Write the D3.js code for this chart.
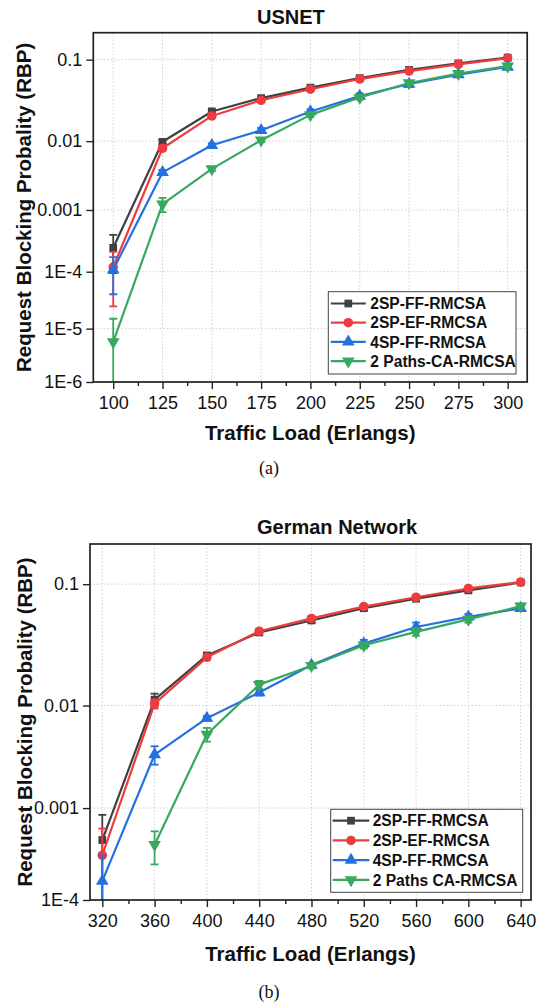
<!DOCTYPE html>
<html><head><meta charset="utf-8">
<script src="https://cdn.jsdelivr.net/npm/d3@7"></script>
<style>body{margin:0;background:#fff}svg{display:block}</style>
</head><body>
<svg id="fig" width="537" height="1007"></svg>
<script>
// ---------- DATA ----------
const seriesNamesA = ["2SP-FF-RMCSA", "2SP-EF-RMCSA", "4SP-FF-RMCSA", "2 Paths-CA-RMCSA"];
const seriesNamesB = ["2SP-FF-RMCSA", "2SP-EF-RMCSA", "4SP-FF-RMCSA", "2 Paths CA-RMCSA"];

// USNET
const usnetLoads = [100, 125, 150, 175, 200, 225, 250, 275, 300];
const usnetFF2   = [2.5e-4, 0.0098, 0.0245, 0.036, 0.048, 0.062, 0.077, 0.091, 0.105];
const usnetEF2   = [1.2e-4, 0.0080, 0.0215, 0.0338, 0.046, 0.0606, 0.0748, 0.089, 0.104];
const usnetFF4   = [1.08e-4, 0.00365, 0.0088, 0.014, 0.0245, 0.038, 0.053, 0.068, 0.083];
const usnetCA2   = [5.7e-6, 0.00123, 0.0041, 0.0103, 0.0222, 0.0365, 0.0545, 0.070, 0.085];
const usnetFF2Err = [1.55e-4, 0.0006, 0.0012, 0.0015, 0.0015, 0.002, 0.002, 0.002, 0.002];
const usnetEF2Err = [0.95e-4, 0.0006, 0.0012, 0.0015, 0.0015, 0.002, 0.002, 0.002, 0.002];
const usnetFF4Err = [0.67e-4, 0.0003, 0.0005, 0.0010, 0.0015, 0.003, 0.004, 0.003, 0.003];
const usnetCA2Err = [0.94e-5, 0.0003, 0.0003, 0.0006, 0.0012, 0.002, 0.002, 0.003, 0.003];
const usnetXTicks = [100, 125, 150, 175, 200, 225, 250, 275, 300];
const usnetXMinor = [112.5, 137.5, 162.5, 187.5, 212.5, 237.5, 262.5, 287.5];
const usnetYTicks = [0.1, 0.01, 0.001, 1e-4, 1e-5, 1e-6];
const usnetYTickLabels = ["0.1", "0.01", "0.001", "1E-4", "1E-5", "1E-6"];

// German network
const germanLoads = [320, 360, 400, 440, 480, 520, 560, 600, 640];
const germanFF2   = [4.6e-4, 0.0113, 0.0275, 0.0425, 0.053, 0.066, 0.078, 0.090, 0.103];
const germanEF2   = [3.15e-4, 0.0104, 0.0265, 0.0435, 0.055, 0.068, 0.080, 0.093, 0.1035];
const germanFF4   = [1.63e-4, 0.00345, 0.00765, 0.0131, 0.0228, 0.0345, 0.047, 0.0566, 0.0658];
const germanCA2   = [null, 4.1e-4, 0.0054, 0.0154, 0.0225, 0.0334, 0.043, 0.054, 0.0686];
const germanFF2Err = [3.9e-4, 0.0015, 0.0012, 0.002, 0.002, 0.002, 0.002, 0.002, 0.002];
const germanEF2Err = [2.95e-4, 0.0010, 0.0012, 0.002, 0.002, 0.002, 0.002, 0.002, 0.002];
const germanFF4Err = [1.5e-4, 0.0007, 0.0004, 0.0008, 0.001, 0.0025, 0.004, 0.003, 0.003];
const germanCA2Err = [null, 1.6e-4, 0.0008, 0.0012, 0.0012, 0.002, 0.003, 0.003, 0.003];
const germanXTicks = [320, 360, 400, 440, 480, 520, 560, 600, 640];
const germanXMinor = [340, 380, 420, 460, 500, 540, 580, 620];
const germanYTicks = [0.1, 0.01, 0.001, 1e-4];
const germanYTickLabels = ["0.1", "0.01", "0.001", "1E-4"];

// ---------- STYLE ----------
const colors = ["#404040", "#ee3b3f", "#2470e0", "#38a85e"];
const symbols = [d3.symbolSquare, d3.symbolCircle, d3.symbolTriangle, d3.symbolTriangle];
const symSizes = [60, 72, 70, 70];
const symRot = [0, 0, 0, 180];
const FONT = "'Liberation Sans', Arial, Helvetica, sans-serif";

const svg = d3.select("#fig");
svg.append("rect").attr("width", 537).attr("height", 1007).attr("fill", "#fff");

function drawPanel(o, idx) {
  const g = svg.append("g");
  const x = d3.scaleLinear().domain(o.xDomain).range([o.left, o.right]);
  // vertical scale: power of -log10(value)
  const yT = d3.scalePow().exponent(0.68)
    .domain([-Math.log10(o.yTopVal), -Math.log10(o.yBotVal)])
    .range([o.top, o.bottom]);
  const y = v => yT(-Math.log10(v));

  // grid
  const grid = g.append("g").attr("stroke", "#cfcfcf").attr("stroke-width", 1).attr("stroke-dasharray", "1.5,2");
  o.xTicks.forEach(t => grid.append("line").attr("x1", x(t)).attr("x2", x(t)).attr("y1", o.top).attr("y2", o.bottom));
  o.yTicks.forEach(t => grid.append("line").attr("x1", o.left).attr("x2", o.right).attr("y1", y(t)).attr("y2", y(t)));

  // clip
  const cid = "clip" + idx;
  svg.append("clipPath").attr("id", cid).append("rect")
    .attr("x", o.left).attr("y", o.top).attr("width", o.right - o.left).attr("height", o.bottom - o.top);
  const data = g.append("g").attr("clip-path", `url(#${cid})`);

  o.series.forEach((s, si) => {
    const pts = o.loads.map((l, i) => ({x: l, v: s[i], e: o.errs[si][i]})).filter(d => d.v != null);
    const sg = data.append("g");
    sg.append("path").datum(pts)
      .attr("d", d3.line().x(d => x(d.x)).y(d => y(d.v)))
      .attr("fill", "none").attr("stroke", colors[si]).attr("stroke-width", 2.2).attr("stroke-linejoin", "round");
    pts.forEach(d => {
      const hi = d.v + d.e;
      const lo = d.v - d.e;
      const yHi = y(hi);
      const yLo = lo > 0 ? y(lo) : o.bottom + 20;
      const xp = x(d.x);
      sg.append("line").attr("x1", xp).attr("x2", xp).attr("y1", yHi).attr("y2", yLo)
        .attr("stroke", colors[si]).attr("stroke-width", 1.8);
      sg.append("line").attr("x1", xp - 4).attr("x2", xp + 4).attr("y1", yHi).attr("y2", yHi)
        .attr("stroke", colors[si]).attr("stroke-width", 1.8);
      if (lo > 0) sg.append("line").attr("x1", xp - 4).attr("x2", xp + 4).attr("y1", yLo).attr("y2", yLo)
        .attr("stroke", colors[si]).attr("stroke-width", 1.8);
    });
    sg.selectAll("path.m").data(pts).enter().append("path").attr("class", "m")
      .attr("d", d3.symbol().type(symbols[si]).size(symSizes[si]))
      .attr("transform", d => `translate(${x(d.x)},${y(d.v)}) rotate(${symRot[si]})`)
      .attr("fill", colors[si]);
  });

  // axes
  const xAxis = d3.axisBottom(x).tickValues(o.xTicks).tickSize(7).tickPadding(7).tickFormat(d3.format("d"));
  const xMinor = d3.axisBottom(x).tickValues(o.xMinor).tickSize(4).tickFormat("");
  const yAxis = d3.axisLeft(yT).tickValues(o.yTicks.map(v => -Math.log10(v)))
    .tickFormat((d, i) => o.yTickLabels[i]).tickSize(7).tickPadding(4);

  const ax = g.append("g").attr("transform", `translate(0,${o.bottom})`).call(xAxis);
  const axm = g.append("g").attr("transform", `translate(0,${o.bottom})`).call(xMinor);
  const ay = g.append("g").attr("transform", `translate(${o.left},0)`).call(yAxis);
  [ax, axm, ay].forEach(a => {
    a.select(".domain").remove();
    a.selectAll(".tick line").attr("stroke", "#222").attr("stroke-width", 1.4);
    a.selectAll(".tick text").attr("font-family", FONT).attr("font-size", 18).attr("fill", "#111");
  });

  // frame
  g.append("rect").attr("x", o.left).attr("y", o.top).attr("width", o.right - o.left).attr("height", o.bottom - o.top)
    .attr("fill", "none").attr("stroke", "#222").attr("stroke-width", 1.7);

  // titles
  g.append("text").attr("x", o.titleX).attr("y", o.titleY).text(o.title)
    .attr("font-family", FONT).attr("font-weight", "bold").attr("font-size", 20).attr("fill", "#111");
  g.append("text").attr("x", (o.left + o.right) / 2).attr("y", o.xTitleY).attr("text-anchor", "middle")
    .text("Traffic Load (Erlangs)")
    .attr("font-family", FONT).attr("font-weight", "bold").attr("font-size", 20.5).attr("fill", "#111");
  g.append("text").attr("transform", `translate(${o.yTitleX},${(o.top + o.bottom) / 2}) rotate(-90)`)
    .attr("text-anchor", "middle").text("Request Blocking Probality (RBP)")
    .attr("font-family", FONT).attr("font-weight", "bold").attr("font-size", 20.5).attr("fill", "#111");
  g.append("text").attr("x", 269).attr("y", o.capY).attr("text-anchor", "middle").text(o.caption)
    .attr("font-family", "'Liberation Serif', 'Times New Roman', serif").attr("font-size", 18).attr("fill", "#111");

  // legend
  const L = o.legend;
  const lg = g.append("g").attr("transform", `translate(${L.x},${L.y})`);
  lg.append("rect").attr("width", L.w).attr("height", L.h).attr("fill", "#fff").attr("stroke", "#444").attr("stroke-width", 1);
  o.names.forEach((nm, i) => {
    const yy = L.row0 + i * L.rowGap;
    lg.append("line").attr("x1", L.lx1).attr("x2", L.lx2).attr("y1", yy).attr("y2", yy)
      .attr("stroke", colors[i]).attr("stroke-width", 2.2);
    lg.append("path").attr("d", d3.symbol().type(symbols[i]).size(symSizes[i]))
      .attr("transform", `translate(${(L.lx1 + L.lx2) / 2},${yy}) rotate(${symRot[i]})`).attr("fill", colors[i]);
    lg.append("text").attr("x", L.tx).attr("y", yy).attr("dy", "0.36em").text(nm)
      .attr("font-family", FONT).attr("font-weight", "bold").attr("font-size", 15.6).attr("fill", "#111");
  });
}

drawPanel({
  left: 93.3, right: 527.2, top: 32.7, bottom: 382,
  xDomain: [89.9, 309.9], yTopVal: 0.19, yBotVal: 1e-6,
  loads: usnetLoads,
  series: [usnetFF2, usnetEF2, usnetFF4, usnetCA2],
  errs: [usnetFF2Err, usnetEF2Err, usnetFF4Err, usnetCA2Err],
  xTicks: usnetXTicks, xMinor: usnetXMinor, yTicks: usnetYTicks, yTickLabels: usnetYTickLabels,
  title: "USNET", titleX: 257, titleY: 24, xTitleY: 440, yTitleX: 30.5,
  caption: "(a)", capY: 474, names: seriesNamesA,
  legend: {x: 328.3, y: 291.7, w: 187.7, h: 82.3, row0: 11.8, rowGap: 19.2, lx1: 2.5, lx2: 37.5, tx: 42}
}, 0);

drawPanel({
  left: 90, right: 531, top: 544, bottom: 900,
  xDomain: [310.6, 647.9], yTopVal: 0.19, yBotVal: 1e-4,
  loads: germanLoads,
  series: [germanFF2, germanEF2, germanFF4, germanCA2],
  errs: [germanFF2Err, germanEF2Err, germanFF4Err, germanCA2Err],
  xTicks: germanXTicks, xMinor: germanXMinor, yTicks: germanYTicks, yTickLabels: germanYTickLabels,
  title: "German Network", titleX: 257, titleY: 534, xTitleY: 961, yTitleX: 32,
  caption: "(b)", capY: 998, names: seriesNamesB,
  legend: {x: 330.7, y: 809.3, w: 192, h: 83, row0: 11.4, rowGap: 19.75, lx1: 2, lx2: 38.6, tx: 42}
}, 1);
</script>
</body></html>
